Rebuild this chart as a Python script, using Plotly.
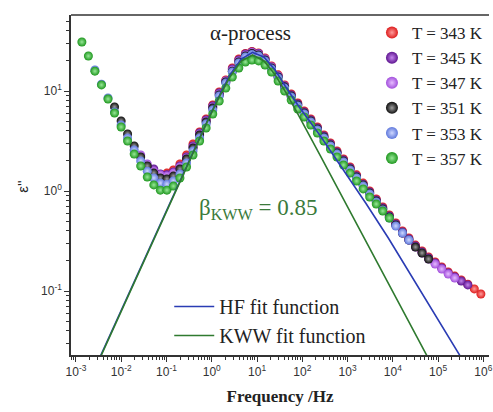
import plotly.graph_objects as go

# ---------------- data ----------------
FREQ = [1.35e-3, 1.88e-3, 2.62e-3, 3.66e-3, 5.10e-3, 7.11e-3, 9.93e-3, 1.38e-2, 1.93e-2, 2.69e-2,
        3.76e-2, 5.24e-2, 7.31e-2, 0.102, 0.142, 0.198, 0.277, 0.385, 0.538, 0.750,
        1.05, 1.46, 2.04, 2.84, 3.96, 5.53, 7.71, 10.8, 15.0, 20.9,
        29.2, 40.7, 56.8, 79.3, 110, 154, 215, 300, 418, 583,
        813, 1135, 1581, 2208, 3076, 4295, 5984, 8356, 1.16e4, 1.63e4,
        2.26e4, 3.16e4, 4.41e4, 6.15e4, 8.57e4, 1.20e5, 1.67e5, 2.33e5, 3.24e5, 4.53e5,
        6.31e5, 8.81e5]

eps_343 = [1.51, 1.62, 1.86, 2.29, 2.95, 3.89, 5.25, 7.24, 9.77, 12.9, 17.0, 20.9, 23.7, 24.8, 24.0,
           21.4, 17.8, 14.5, 11.5, 9.33, 7.59, 6.31, 5.25, 4.37, 3.63, 3.02, 2.51, 2.09, 1.74, 1.45,
           1.20, 1.00, 0.832, 0.692, 0.575, 0.479, 0.398, 0.339, 0.288, 0.251, 0.219, 0.195, 0.174,
           0.155, 0.141, 0.129, 0.117, 0.105, 0.0933]
eps_345 = [1.66, 1.48, 1.45, 1.55, 1.78, 2.19, 2.82, 3.80, 5.13, 7.08, 9.55, 12.6, 16.6, 20.4, 23.4,
           24.5, 23.7, 20.9, 17.4, 14.1, 11.2, 9.12, 7.41, 6.17, 5.13, 4.27, 3.55, 2.95, 2.45, 2.04,
           1.70, 1.41, 1.17, 0.977, 0.813, 0.676, 0.562, 0.468, 0.389, 0.331, 0.282, 0.245, 0.214,
           0.191, 0.170, 0.151, 0.138, 0.126, 0.115]
eps_347 = [2.29, 1.86, 1.58, 1.45, 1.41, 1.51, 1.74, 2.14, 2.75, 3.72, 5.01, 6.92, 9.33, 12.6, 16.2,
           20.0, 22.9, 24.3, 23.4, 20.9, 17.4, 14.1, 11.2, 8.91, 7.24, 6.03, 5.01, 4.17, 3.47, 2.88,
           2.40, 2.00, 1.66, 1.38, 1.15, 0.955, 0.794, 0.661, 0.550, 0.457, 0.380, 0.324, 0.275,
           0.240, 0.209, 0.186, 0.166, 0.148, 0.135]
eps_351 = [6.92, 5.01, 3.72, 2.82, 2.19, 1.78, 1.51, 1.35, 1.32, 1.41, 1.66, 2.09, 2.69, 3.63, 4.90,
           6.76, 9.12, 12.3, 15.8, 19.5, 22.4, 23.7, 22.9, 20.4, 17.0, 13.8, 11.0, 8.91, 7.24, 6.03,
           5.01, 4.17, 3.47, 2.88, 2.40, 2.00, 1.66, 1.38, 1.15, 0.955, 0.794, 0.661, 0.550, 0.457,
           0.380, 0.324, 0.275, 0.240, 0.209]
eps_353 = [16.2, 11.7, 8.51, 6.17, 4.57, 3.39, 2.57, 2.00, 1.58, 1.35, 1.20, 1.17, 1.26, 1.48, 1.91,
           2.51, 3.39, 4.68, 6.46, 8.91, 12.0, 15.5, 19.1, 21.9, 23.2, 22.4, 20.0, 16.6, 13.5, 10.7,
           8.71, 7.08, 5.89, 4.90, 4.07, 3.39, 2.82, 2.34, 1.95, 1.62, 1.35, 1.12, 0.933, 0.776,
           0.646, 0.537, 0.447, 0.380, 0.324]
eps_357 = [30.9, 22.4, 15.8, 11.5, 8.32, 6.03, 4.37, 3.16, 2.34, 1.78, 1.38, 1.15, 1.02, 1.02, 1.12,
           1.35, 1.74, 2.29, 3.16, 4.27, 5.89, 7.94, 10.7, 13.8, 17.0, 19.5, 20.4, 20.0, 18.2, 15.5,
           12.6, 10.0, 8.13, 6.61, 5.50, 4.57, 3.80, 3.16, 2.63, 2.19, 1.82, 1.51, 1.26, 1.05,
           0.871, 0.741, 0.631, 0.537]

# index of first frequency of each temperature in FREQ
first_idx = {"343": 13, "345": 11, "347": 9, "351": 5, "353": 2, "357": 0}

# fit functions
fit_freq_kww = [2.00e-3, 7.94e-3, 0.0794, 0.251, 0.794, 1.41, 2.51, 4.47, 7.94, 14.1, 25.1, 44.7,
                79.4, 251, 794, 7943, 79430]
fit_kww = [0.0126, 0.0501, 0.501, 1.574, 4.91, 8.45, 13.8, 19.95, 22.9, 20.1, 14.5, 9.44, 5.92,
           2.24, 0.845, 0.119, 0.0169]
fit_freq_hf = [2.00e-3, 7.94e-3, 0.0794, 0.251, 0.794, 1.41, 2.51, 4.47, 7.94, 14.1, 25.1, 44.7,
               79.4, 251, 794, 2512, 7943, 25120, 79430, 316200]
fit_hf = [0.0129, 0.0513, 0.513, 1.62, 5.01, 8.71, 14.5, 20.9, 24.3, 21.9, 16.2, 10.7, 7.24,
          3.55, 1.66, 0.759, 0.339, 0.145, 0.0617, 0.0219]

series_names = ["T = 343 K", "T = 345 K", "T = 347 K", "T = 351 K", "T = 353 K", "T = 357 K"]
series_keys = ["343", "345", "347", "351", "353", "357"]
series_eps = [eps_343, eps_345, eps_347, eps_351, eps_353, eps_357]
edge_colors = ["#dd1c1c", "#5e1590", "#a24fdc", "#0d0d0d", "#5f78dc", "#1f971f"]
center_colors = ["#ff9c9c", "#c586ee", "#e6bcff", "#a0a0a0", "#cfd8ff", "#98e898"]

x_ticks = [1e-3, 1e-2, 1e-1, 1e0, 1e1, 1e2, 1e3, 1e4, 1e5, 1e6]
x_labels = ["10<sup>-3</sup>", "10<sup>-2</sup>", "10<sup>-1</sup>", "10<sup>0</sup>", "10<sup>1</sup>",
            "10<sup>2</sup>", "10<sup>3</sup>", "10<sup>4</sup>", "10<sup>5</sup>", "10<sup>6</sup>"]
y_ticks = [0.1, 1, 10]
y_labels = ["10<sup>-1</sup>", "10<sup>0</sup>", "10<sup>1</sup>"]

# ---------------- figure ----------------
fig = go.Figure()

for name, key, eps, ec, cc in zip(series_names, series_keys, series_eps, edge_colors, center_colors):
    s = first_idx[key]
    fig.add_trace(go.Scatter(
        x=FREQ[s:s + len(eps)], y=eps, mode="markers", name=name, legend="legend",
        marker=dict(size=9, color=ec, gradient=dict(type="radial", color=cc),
                    line=dict(width=0)),
    ))

fig.add_trace(go.Scatter(x=fit_freq_hf, y=fit_hf, mode="lines", name="HF fit function",
                         legend="legend2", line=dict(color="#2a3cb4", width=1.6)))
fig.add_trace(go.Scatter(x=fit_freq_kww, y=fit_kww, mode="lines", name="KWW fit function",
                         legend="legend2", line=dict(color="#2f7a2f", width=1.6)))

minor_x = [m * 10.0 ** e for e in range(-4, 6) for m in range(2, 10)]
minor_y = [m * 10.0 ** e for e in range(-2, 2) for m in range(2, 10)]

axis_common = dict(showgrid=False, zeroline=False, showline=True, linecolor="#333333",
                   linewidth=1.5, ticks="outside", ticklen=5, tickwidth=1.2, tickcolor="#333333",
                   ticklabeloverflow="allow", mirror=False,
                   tickfont=dict(family="Liberation Sans, Arial", size=12, color="#333333"))

fig.update_xaxes(type="log", range=[-3.11, 6.124], tickvals=x_ticks, ticktext=x_labels,
                 minor=dict(tickvals=minor_x, ticks="outside", ticklen=3, tickcolor="#333333",
                            showgrid=False),
                 title=dict(text="<b>Frequency /Hz</b>",
                            font=dict(family="Liberation Serif, Times New Roman", size=17, color="#222222"),
                            standoff=12),
                 **axis_common)
fig.update_yaxes(type="log", range=[-1.64, 1.76], tickvals=y_ticks, ticktext=y_labels,
                 minor=dict(tickvals=minor_y, ticks="outside", ticklen=3, tickcolor="#333333",
                            showgrid=False),
                 **axis_common)

# top frame line
fig.add_shape(type="line", xref="paper", yref="paper", x0=0, x1=1, y0=1, y1=1,
              line=dict(color="#333333", width=1.5))

# y-axis title
fig.add_annotation(text="ε''", x=-0.118, y=0.497, xref="paper", yref="paper",
                   xanchor="center", yanchor="middle", textangle=-90, showarrow=False,
                   font=dict(family="Liberation Sans, Arial", size=15, color="#222222"))

fig.add_annotation(text="α-process", x=0.43, y=0.947, xref="paper", yref="paper",
                   xanchor="center", yanchor="middle",
                   showarrow=False, font=dict(family="Liberation Serif, Times New Roman", size=21, color="#222222"))
fig.add_annotation(text="β<sub>KWW</sub> = 0.85", x=0.447, y=0.43, xref="paper", yref="paper",
                   xanchor="center", yanchor="middle",
                   showarrow=False, font=dict(family="Liberation Serif, Times New Roman", size=23, color="#3b7a3b"))

fig.update_layout(
    width=493, height=412,
    margin=dict(l=71, r=0, t=15, b=57),
    paper_bgcolor="white", plot_bgcolor="white",
    showlegend=True,
    legend=dict(x=0.72, y=1.0, xanchor="left", yanchor="top", bgcolor="rgba(0,0,0,0)",
                font=dict(family="Liberation Serif, Times New Roman", size=17, color="#222222"),
                tracegroupgap=0, itemsizing="constant"),
    legend2=dict(x=0.235, y=0.2, xanchor="left", yanchor="top", bgcolor="rgba(0,0,0,0)",
                 font=dict(family="Liberation Serif, Times New Roman", size=20, color="#222222"),
                 tracegroupgap=0, itemwidth=40),
)

fig.write_html("out.html")
